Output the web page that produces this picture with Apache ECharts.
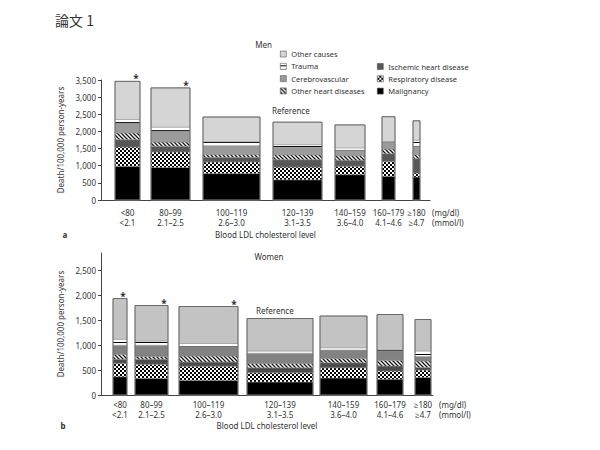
<!DOCTYPE html>
<html><head><meta charset="utf-8">
<script src="https://cdn.jsdelivr.net/npm/echarts@6/dist/echarts.min.js"></script>
<style>html,body{margin:0;padding:0;background:#fff}#c{width:600px;height:450px}</style>
</head><body><div id="c"></div>
<script>
// ---------------- DATA ----------------
const categoriesMg = ['<80', '80–99', '100–119', '120–139', '140–159', '160–179', '≥180'];
const categoriesMmol = ['<2.1', '2.1–2.5', '2.6–3.0', '3.1–3.5', '3.6–4.0', '4.1–4.6', '≥4.7'];
const causes = ['Malignancy', 'Respiratory disease', 'Ischemic heart disease', 'Other heart diseases', 'Cerebrovascular', 'Trauma', 'Other causes'];

// Men (deaths / 100,000 person-years), bar width ~ person-years share
const menPersonYears = [25, 39, 57, 49, 30, 13, 7];
const menMalignancy = [980, 950, 770, 590, 740, 690, 670];
const menRespiratory = [565, 450, 340, 370, 245, 440, 115];
const menIschemic = [215, 170, 135, 215, 175, 220, 420];
const menOtherHeart = [195, 120, 80, 145, 135, 135, 115];
const menCerebro = [290, 325, 260, 215, 155, 205, 245];
const menTrauma = [105, 110, 115, 80, 70, 15, 180];
const menOtherCauses = [1110, 1145, 720, 655, 670, 725, 565];
const menSignificant = [true, true, false, false, false, false, false];

// Women
const womenPersonYears = [14, 33, 59, 66, 47, 26, 16];
const womenMalignancy = [365, 330, 290, 260, 340, 315, 350];
const womenRespiratory = [270, 285, 285, 185, 205, 165, 150];
const womenIschemic = [80, 100, 85, 100, 100, 100, 50];
const womenOtherHeart = [100, 55, 120, 85, 90, 115, 130];
const womenCerebro = [180, 225, 190, 205, 165, 185, 90];
const womenTrauma = [120, 85, 60, 45, 45, 20, 110];
const womenOtherCauses = [815, 710, 740, 650, 635, 710, 630];
const womenSignificant = [true, true, true, false, false, false, false];

const referenceIndex = 3;
const yTicksMen = [0, 500, 1000, 1500, 2000, 2500, 3000, 3500];
const yTicksWomen = [0, 500, 1000, 1500, 2000, 2500];

// ---------------- STYLE / LAYOUT ----------------
const FF = '"Noto Sans", "Open Sans", sans-serif';
const TXT = '#333';

function makePattern(w, h, draw) {
  const c = document.createElement('canvas');
  c.width = w; c.height = h;
  const g = c.getContext('2d');
  draw(g, w, h);
  return { image: c, repeat: 'repeat' };
}
const patDots = makePattern(4, 4, g => {
  g.fillStyle = '#000'; g.fillRect(0, 0, 4, 4);
  g.fillStyle = '#fff'; g.fillRect(0, 0, 2, 2); g.fillRect(2, 2, 2, 2);
});
const patHatch = makePattern(4, 4, g => {
  g.fillStyle = '#fff'; g.fillRect(0, 0, 4, 4);
  g.strokeStyle = '#111'; g.lineWidth = 1.3;
  g.beginPath();
  g.moveTo(-1, -1); g.lineTo(5, 5);
  g.moveTo(-1, 3); g.lineTo(1, 5);
  g.moveTo(3, -1); g.lineTo(5, 1);
  g.stroke();
});
const patTrauma = makePattern(4, 4, g => {
  g.fillStyle = '#fff'; g.fillRect(0, 0, 4, 4);
  g.fillStyle = '#000'; g.fillRect(0, 2, 4, 1);
});

const panels = [
  {
    widths: menPersonYears,
    values: [menMalignancy, menRespiratory, menIschemic, menOtherHeart, menCerebro, menTrauma, menOtherCauses],
    significant: menSignificant,
    fills: ['#000', patDots, '#575757', patHatch, '#9b9b9b', patTrauma, '#d5d5d5'],
    lead: 14, gaps: [11, 13, 13, 13, 17, 18],
    lab1: 12, lab2: 22, refDx: -1, refDy: -12
  },
  {
    widths: womenPersonYears,
    values: [womenMalignancy, womenRespiratory, womenIschemic, womenOtherHeart, womenCerebro, womenTrauma, womenOtherCauses],
    significant: womenSignificant,
    fills: ['#000', patDots, '#4c4c4c', patHatch, '#828282', patTrauma, '#c3c3c3'],
    lead: 12, gaps: [8, 11, 9, 7, 10, 12],
    lab1: 9, lab2: 19, refDx: 9, refDy: -8
  }
];

function txt(text, x, y, align, font, va) {
  return {
    type: 'text', x: x, y: y,
    style: {
      text: text, x: 0, y: 0, fill: TXT, font: font || ('8px ' + FF),
      align: align, textAlign: align,
      verticalAlign: va || 'middle', textVerticalAlign: va || 'middle'
    }
  };
}

function segRender(fill) {
  return function (params, api) {
    const a = api.coord([api.value(0), api.value(3)]);
    const b = api.coord([api.value(1), api.value(2)]);
    return {
      type: 'rect',
      shape: { x: a[0], y: a[1], width: b[0] - a[0], height: b[1] - a[1] },
      style: { fill: fill, stroke: '#8c8c8c', lineWidth: 0.5 }
    };
  };
}

function annRender(p) {
  return function (params, api) {
    const i = params.dataIndex;
    const tl = api.coord([api.value(0), api.value(3)]);
    const br = api.coord([api.value(1), 0]);
    const cx = (tl[0] + br[0]) / 2;
    const ch = [{
      type: 'rect',
      shape: { x: tl[0], y: tl[1], width: br[0] - tl[0], height: br[1] - tl[1] },
      style: { fill: 'none', stroke: '#6a6a6a', lineWidth: 1 }
    }];
    ch.push(txt(categoriesMg[i], cx, br[1] + p.lab1, 'center'));
    ch.push(txt(categoriesMmol[i], cx, br[1] + p.lab2, 'center'));
    if (p.significant[i]) ch.push(txt('*', br[0] - 4, tl[1] - 3, 'center', 'bold 10px ' + FF));
    if (i === referenceIndex) ch.push(txt('Reference', tl[0] + p.refDx, tl[1] + p.refDy, 'left'));
    return { type: 'group', children: ch };
  };
}

const series = [];
panels.forEach((p, idx) => {
  const x0s = [], x1s = [];
  let x = p.lead;
  p.widths.forEach((w, i) => {
    if (i > 0) x += p.gaps[i - 1];
    x0s.push(x); x += w; x1s.push(x);
  });
  const base = p.widths.map(() => 0);
  p.values.forEach((arr, k) => {
    const data = arr.map((v, i) => {
      const d = [x0s[i], x1s[i], base[i], base[i] + v];
      base[i] += v;
      return d;
    });
    series.push({
      type: 'custom', name: causes[k], xAxisIndex: idx, yAxisIndex: idx,
      encode: { x: [0, 1], y: [2, 3] },
      itemStyle: { color: panels[0].fills[k] },
      renderItem: segRender(p.fills[k]), data: data, silent: true, z: 2
    });
  });
  series.push({
    type: 'custom', name: 'annotations' + idx, xAxisIndex: idx, yAxisIndex: idx,
    encode: { x: [0, 1], y: [2, 3] },
    renderItem: annRender(p),
    data: base.map((t, i) => [x0s[i], x1s[i], 0, t]), silent: true, z: 3
  });
});

const axisCommonY = {
  type: 'value', min: 0,
  nameLocation: 'middle', nameGap: 27, nameRotate: 90,
  nameTextStyle: { fontSize: 8, fontFamily: FF, color: TXT },
  axisLine: { show: true, lineStyle: { color: '#444', width: 1 } },
  axisTick: { show: true, length: 3, lineStyle: { color: '#444' } },
  axisLabel: { fontSize: 8, fontFamily: FF, color: TXT, margin: 5 },
  splitLine: { show: false }
};
const axisCommonX = {
  type: 'value', min: 0,
  nameLocation: 'middle',
  nameTextStyle: { fontSize: 8, fontFamily: FF, color: TXT },
  axisLine: { show: true, onZero: false, lineStyle: { color: '#444', width: 1 } },
  axisTick: { show: false }, axisLabel: { show: false }, splitLine: { show: false }
};

const legendCommon = {
  orient: 'vertical', icon: 'rect', itemWidth: 6, itemHeight: 6, itemGap: 3.3,
  selectedMode: false, padding: 0,
  itemStyle: { borderColor: '#555', borderWidth: 0.6 },
  textStyle: { fontSize: 7.5, fontFamily: FF, color: TXT, lineHeight: 9 }
};

const option = {
  animation: false,
  backgroundColor: '#fff',
  grid: [
    { left: 101, right: 170, top: 80, height: 120 },
    { left: 101, right: 167, top: 253, height: 142 }
  ],
  xAxis: [
    Object.assign({}, axisCommonX, { gridIndex: 0, max: 329, name: 'Blood LDL cholesterol level', nameGap: 30 }),
    Object.assign({}, axisCommonX, { gridIndex: 1, max: 332, name: 'Blood LDL cholesterol level', nameGap: 26 })
  ],
  yAxis: [
    Object.assign({}, axisCommonY, { gridIndex: 0, max: yTicksMen[yTicksMen.length - 1], interval: 500, name: 'Death/100,000 person-years' }),
    Object.assign({}, axisCommonY, {
      gridIndex: 1, max: 2840, name: 'Death/100,000 person-years',
      axisTick: Object.assign({}, axisCommonY.axisTick, { customValues: yTicksWomen }),
      axisLabel: Object.assign({}, axisCommonY.axisLabel, { customValues: yTicksWomen })
    })
  ],
  legend: [
    Object.assign({}, legendCommon, { left: 280, top: 49.5, data: ['Other causes', 'Trauma', 'Cerebrovascular', 'Other heart diseases'] }),
    Object.assign({}, legendCommon, { left: 377, top: 62, data: ['Ischemic heart disease', 'Respiratory disease', 'Malignancy'] })
  ],
  graphic: [
    txt('論文 1', 55, 20, 'left', '14px "Noto Sans CJK JP", sans-serif'),
    txt('Men', 263.5, 44, 'center'),
    txt('Women', 269, 256, 'center'),
    txt('(mg/dl)', 432, 212, 'left'),
    txt('(mmol/l)', 432, 222, 'left'),
    txt('(mg/dl)', 439, 404, 'left'),
    txt('(mmol/l)', 439, 414, 'left'),
    txt('a', 65, 234, 'center', 'bold 8px ' + FF),
    txt('b', 63, 425, 'center', 'bold 8px ' + FF)
  ],
  series: series
};

const chart = echarts.init(document.getElementById('c'), null, { renderer: 'svg' });
chart.setOption(option);
</script>
</body></html>
